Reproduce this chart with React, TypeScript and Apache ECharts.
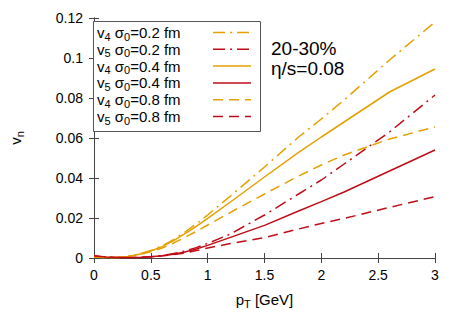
import React, { useEffect, useRef } from "react";
import * as echarts from "echarts";

const pT = [0, 0.1, 0.2, 0.3, 0.4, 0.5, 0.6, 0.7, 0.8, 0.9, 1.0, 1.2, 1.5, 1.8, 2.0, 2.2, 2.6, 3.0];

const v4s02 = [0.0005, 0.0002, 0.0002, 0.0008, 0.002, 0.0038, 0.006, 0.0092, 0.013, 0.017, 0.0215, 0.031, 0.0455, 0.0605, 0.0695, 0.079, 0.099, 0.118];
const v5s02 = [0.001, 0.0005, 0.0002, 0.0002, 0.0003, 0.0006, 0.0012, 0.0022, 0.0035, 0.0052, 0.0073, 0.012, 0.0215, 0.032, 0.039, 0.047, 0.063, 0.0815];
const v4s04 = [0.0005, 0.0002, 0.0002, 0.0008, 0.0019, 0.0035, 0.0057, 0.0087, 0.0122, 0.0158, 0.0198, 0.028, 0.0405, 0.0528, 0.0605, 0.068, 0.083, 0.0945];
const v5s04 = [0.001, 0.0005, 0.0002, 0.0002, 0.0003, 0.0006, 0.0011, 0.0019, 0.003, 0.0045, 0.0063, 0.0103, 0.0163, 0.0235, 0.0282, 0.033, 0.0435, 0.054];
const v4s08 = [0.0005, 0.0002, 0.0002, 0.0007, 0.0017, 0.0031, 0.005, 0.0075, 0.0103, 0.0133, 0.0165, 0.0228, 0.032, 0.041, 0.0465, 0.0515, 0.0595, 0.0655];
const v5s08 = [0.001, 0.0005, 0.0002, 0.0002, 0.0003, 0.0006, 0.0011, 0.0017, 0.0025, 0.0037, 0.005, 0.0072, 0.0102, 0.0145, 0.0173, 0.0198, 0.0253, 0.0307];

const harmonics = ["4", "5", "4", "5", "4", "5"];
const sigmas = ["0.2", "0.2", "0.4", "0.4", "0.8", "0.8"];
const seriesValues = [v4s02, v5s02, v4s04, v5s04, v4s08, v5s08];

const ORANGE = "#e5a000";
const RED = "#bf0d18";
const colors = [ORANGE, RED, ORANGE, RED, ORANGE, RED];
const DASHDOT = [12, 5, 2, 5];
const DASHED = [10, 6];
const dashes: any[] = [DASHDOT, DASHDOT, "solid", "solid", DASHED, DASHED];

const FONT = "'Liberation Sans', Arial, Helvetica, sans-serif";

export default function App() {
  const ref = useRef<HTMLDivElement>(null);
  useEffect(() => {
    if (!ref.current) return;
    const chart = echarts.init(ref.current, null, { renderer: "svg" });

    const series = seriesValues.map((vals, i) => ({
      type: "line",
      name: `v${harmonics[i]} σ0=${sigmas[i]} fm`,
      data: pT.map((x, j) => [x, vals[j]]),
      showSymbol: false,
      smooth: false,
      lineStyle: { color: colors[i], width: 1.5, type: dashes[i], cap: "butt" },
      itemStyle: { color: colors[i] },
      z: 3,
    }));

    const legendTop = 24;
    const rowH = 16.8;
    const legendEls: any[] = [
      {
        type: "rect",
        shape: { x: 93.5, y: 21.5, width: 167, height: 110 },
        style: { fill: "#fff", stroke: "#555", lineWidth: 1 },
        z: 10,
      },
    ];
    seriesValues.forEach((_, i) => {
      const cy = legendTop + 8.5 + i * rowH;
      legendEls.push({
        type: "text",
        x: 97,
        y: cy,
        style: {
          text: `{a|v}{s|${harmonics[i]}}{a| σ}{s|0}{a|=${sigmas[i]} fm}`,
          verticalAlign: "middle",
          rich: {
            a: { fontSize: 15, fontFamily: FONT, fill: "#000" },
            s: { fontSize: 11, fontFamily: FONT, fill: "#000", padding: [8, 0, 0, 0] },
          },
        },
        z: 11,
      });
      legendEls.push({
        type: "line",
        shape: { x1: 213, y1: cy, x2: 251, y2: cy },
        style: {
          stroke: colors[i],
          lineWidth: 1.5,
          lineDash: dashes[i] === "solid" ? null : dashes[i],
        },
        z: 11,
      });
    });

    const option: any = {
      animation: false,
      grid: { left: 85, right: 28, top: 18, bottom: 66, containLabel: false },
      xAxis: [
        {
          type: "value",
          min: 0,
          max: 3,
          interval: 0.5,
          name: "{a|p}{s|T}{a| [GeV]}",
          nameLocation: "middle",
          nameGap: 32,
          nameTextStyle: {
            rich: {
              a: { fontSize: 15, fontFamily: FONT, color: "#000" },
              s: { fontSize: 11, fontFamily: FONT, color: "#000", padding: [8, 0, 0, 0] },
            },
          },
          axisLine: { show: true, lineStyle: { color: "#444", width: 1 } },
          axisTick: { show: true, inside: true, length: 5, lineStyle: { color: "#444" } },
          axisLabel: { fontSize: 14, fontFamily: FONT, color: "#000", margin: 10 },
          splitLine: { show: false },
        },
        {
          type: "value",
          position: "top",
          min: 0,
          max: 3,
          interval: 0.5,
          axisLine: { show: true, lineStyle: { color: "#444", width: 1 } },
          axisTick: { show: true, inside: true, length: 5, lineStyle: { color: "#444" } },
          axisLabel: { show: false },
          splitLine: { show: false },
        },
      ],
      yAxis: [
        {
          type: "value",
          min: 0,
          max: 0.12,
          interval: 0.02,
          name: "{a|v}{s|n}",
          nameLocation: "middle",
          nameGap: 69,
          nameRotate: 90,
          nameTextStyle: {
            rich: {
              a: { fontSize: 15, fontFamily: FONT, color: "#000" },
              s: { fontSize: 11, fontFamily: FONT, color: "#000", padding: [8, 0, 0, 0] },
            },
          },
          axisLine: { show: true, lineStyle: { color: "#444", width: 1 } },
          axisTick: { show: true, inside: true, length: 5, lineStyle: { color: "#444" } },
          axisLabel: { fontSize: 14, fontFamily: FONT, color: "#000", margin: 11 },
          splitLine: { show: false },
        },
        {
          type: "value",
          position: "right",
          min: 0,
          max: 0.12,
          interval: 0.02,
          axisLine: { show: true, lineStyle: { color: "#444", width: 1 } },
          axisTick: { show: true, inside: true, length: 5, lineStyle: { color: "#444" } },
          axisLabel: { show: false },
          splitLine: { show: false },
        },
      ],
      series,
      graphic: [
        ...legendEls,
        {
          type: "text",
          x: 271,
          y: 48,
          style: {
            text: "20-30%",
            fontSize: 19,
            fontFamily: FONT,
            fill: "#000",
            verticalAlign: "middle",
          },
          z: 11,
        },
        {
          type: "text",
          x: 271,
          y: 68,
          style: {
            text: "η/s=0.08",
            fontSize: 19,
            fontFamily: FONT,
            fill: "#000",
            verticalAlign: "middle",
          },
          z: 11,
        },
      ],
    };
    chart.setOption(option);
    return () => chart.dispose();
  }, []);
  return (
    <div
      ref={ref}
      style={{ position: "fixed", left: 0, top: 0, width: 463, height: 324, background: "#fff" }}
    />
  );
}
